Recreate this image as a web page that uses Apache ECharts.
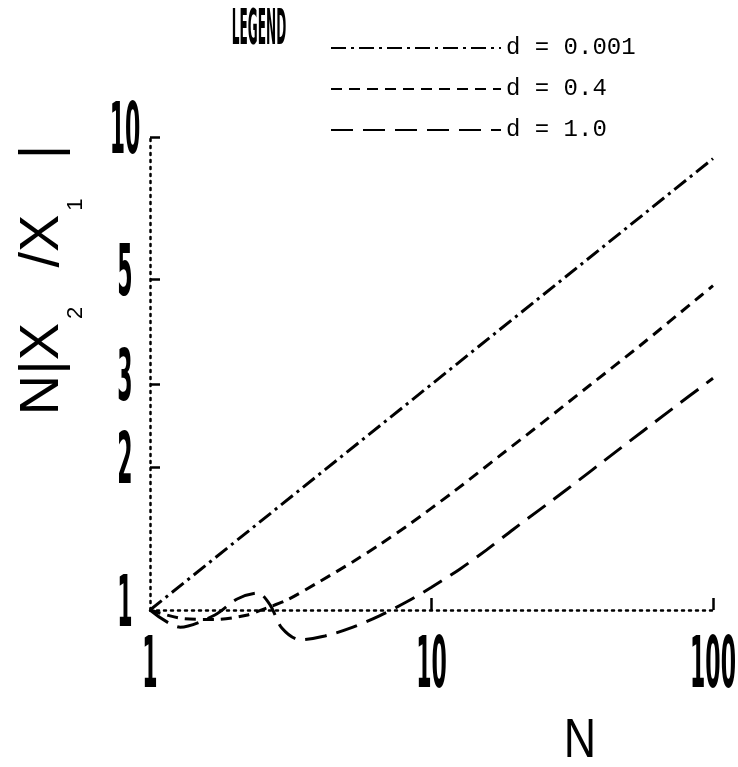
<!DOCTYPE html>
<html><head><meta charset="utf-8">
<script src="https://cdn.jsdelivr.net/npm/echarts@6/dist/echarts.min.js"></script>
<style>html,body{margin:0;padding:0;background:#fff}#c{width:738px;height:767px}</style>
</head><body><div id="c"></div>
<script>
// ---- data ----
const xTickLabels = [1, 10, 100];
const xTickMarks = [10, 100];
const yTickLabels = [1, 2, 3, 5, 10];
const yTickMarks = [2, 3, 5, 10];
const seriesNames = ['d = 0.001', 'd = 0.4', 'd = 1.0'];

const nD0001 = [1, 10, 100];
const vD0001 = [1, 3.0, 9.0];

const nD04 = [1, 1.3, 1.7, 2.2, 2.6, 3.07, 4.02, 5.26, 6.56, 8.37, 12, 17.5, 24.8, 36.6, 55, 89.8, 100];
const vD04 = [1, 0.96, 0.955, 0.975, 1.01, 1.05, 1.15, 1.265, 1.376, 1.52, 1.78, 2.12, 2.49, 2.99, 3.62, 4.6, 4.85];

const nD10 = [1, 1.28, 1.7, 2.04, 2.42, 2.67, 2.94, 3.41, 4.18, 5.26, 6.56, 8.2, 10, 12.6, 15.7, 19.5, 30.3, 45.6, 70.3, 100];
const vD10 = [1, 0.92, 0.976, 1.055, 1.086, 1.025, 0.916, 0.865, 0.881, 0.92, 0.973, 1.042, 1.117, 1.22, 1.34, 1.48, 1.80, 2.17, 2.64, 3.09];

// ---- chart ----
const pair = (xs, ys) => xs.map((x, i) => [x, ys[i]]);
const narrow = "'Liberation Sans Narrow','DejaVu Sans Condensed','Liberation Sans',sans-serif";
const axisLineStyle = { color: '#000', width: 2.5, type: [2, 5] };

const chart = echarts.init(document.getElementById('c'), null, { renderer: 'canvas' });
const baseGraphic = [
  { type: 'text', x: 259, y: 31, scaleX: 0.27, silent: true,
    style: { text: 'LEGEND', fontSize: 50, fontWeight: 'bold', fontFamily: narrow, fill: '#000',
             align: 'center', verticalAlign: 'middle', textAlign: 'center', textVerticalAlign: 'middle' } },
  { type: 'text', x: 580, y: 742, scaleX: 0.8, silent: true,
    style: { text: 'N', fontSize: 56, fontFamily: "'Liberation Sans',sans-serif", fill: '#000',
             align: 'center', verticalAlign: 'middle', textAlign: 'center', textVerticalAlign: 'middle' } },
  { type: 'text', x: 15, y: 280, rotation: Math.PI / 2, silent: true,
    style: {
      text: '{m|N|X}{s|2}{m|  /X}{s|1}{m|  |}',
      fill: '#000', align: 'center', verticalAlign: 'top', textAlign: 'center', textVerticalAlign: 'top',
      rich: {
        m: { fontSize: 56, lineHeight: 56, verticalAlign: 'top', fontFamily: "'Liberation Sans',sans-serif", fill: '#000', color: '#000' },
        s: { fontSize: 22, lineHeight: 22, verticalAlign: 'top', padding: [50, 8, 0, 4], fontFamily: "'Liberation Sans',sans-serif", fill: '#000', color: '#000' }
      }
    } }
];
const option = {
  animation: false,
  backgroundColor: '#fff',
  color: ['#000', '#000', '#000'],
  grid: { left: 150, right: 25, top: 137, bottom: 157, containLabel: false, outerBoundsMode: 'none' },
  xAxis: {
    type: 'log', logBase: 10, min: 1, max: 100,
    axisLine: { show: true, lineStyle: axisLineStyle },
    axisTick: { show: true, inside: true, length: 12, customValues: xTickMarks, lineStyle: { color: '#000', width: 2.5 } },
    axisLabel: { show: false },
    splitLine: { show: false }, minorTick: { show: false }
  },
  yAxis: {
    type: 'log', logBase: 10, min: 1, max: 10,
    axisLine: { show: true, lineStyle: axisLineStyle },
    axisTick: { show: true, inside: true, length: 10, customValues: yTickMarks, lineStyle: { color: '#000', width: 2.5 } },
    axisLabel: { show: false },
    splitLine: { show: false }, minorTick: { show: false }
  },
  legend: {
    orient: 'vertical', left: 330, top: 36, padding: 0,
    itemWidth: 170, itemHeight: 24, itemGap: 17,
    data: seriesNames,
    itemStyle: { opacity: 0 },
    textStyle: { fontFamily: "'Liberation Mono','DejaVu Sans Mono',monospace", fontSize: 24, lineHeight: 24, color: '#000' }
  },
  series: [
    { name: seriesNames[0], type: 'line', data: pair(nD0001, vD0001), symbol: 'none', smooth: false, clip: false,
      itemStyle: { color: '#000' }, lineStyle: { color: '#000', width: 3, type: [15, 5, 3, 5] } },
    { name: seriesNames[1], type: 'line', data: pair(nD04, vD04), symbol: 'none', smooth: 0.3, clip: false,
      itemStyle: { color: '#000' }, lineStyle: { color: '#000', width: 3, type: [11, 7] } },
    { name: seriesNames[2], type: 'line', data: pair(nD10, vD10), symbol: 'none', smooth: 0.3, clip: false,
      itemStyle: { color: '#000' }, lineStyle: { color: '#000', width: 3, type: [22, 10] } }
  ],
  graphic: baseGraphic
};
chart.setOption(option);

// tick labels: narrow plotter-style digits, placed through the axes' own scales
const tickFont = { fontSize: 72, fontWeight: 'bold', fontFamily: "'DejaVu Sans Condensed','DejaVu Sans',sans-serif", fill: '#000',
                   align: 'center', verticalAlign: 'middle', textAlign: 'center', textVerticalAlign: 'middle' };
const tickTexts = [];
xTickLabels.forEach(v => {
  const p = chart.convertToPixel({ gridIndex: 0 }, [v, 1]);
  tickTexts.push({ type: 'text', x: p[0], y: p[1] + 58, scaleX: 0.34, silent: true, style: Object.assign({}, tickFont, { text: String(v) }) });
});
yTickLabels.forEach(v => {
  const p = chart.convertToPixel({ gridIndex: 0 }, [1, v]);
  tickTexts.push({ type: 'text', x: p[0] - 25, y: p[1] - 3, scaleX: 0.34, silent: true, style: Object.assign({}, tickFont, { text: String(v) }) });
});
chart.setOption({ graphic: baseGraphic.concat(tickTexts) });
</script>
</body></html>
